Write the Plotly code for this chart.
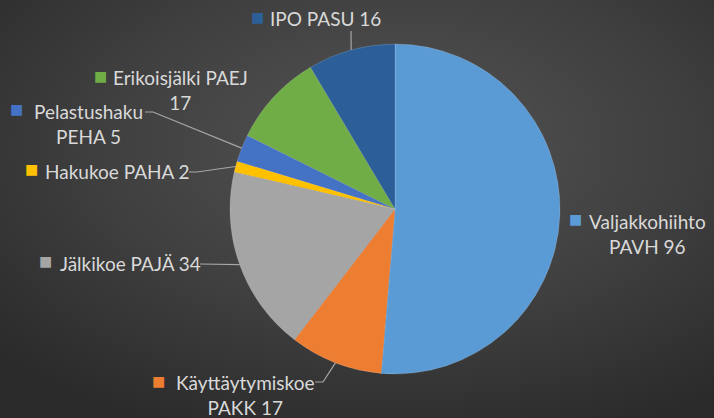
import math, base64
import plotly.graph_objects as go

# ---- data ----
names = ["Valjakkohiihto PAVH", "Käyttäytymiskoe PAKK", "Jälkikoe PAJÄ", "Hakukoe PAHA",
         "Pelastushaku PEHA", "Erikoisjälki PAEJ", "IPO PASU"]
values = [96, 17, 34, 2, 5, 17, 16]
label_lines = [["Valjakkohiihto", "PAVH 96"], ["Käyttäytymiskoe", "PAKK 17"],
               ["Jälkikoe PAJÄ 34"], ["Hakukoe PAHA 2"], ["Pelastushaku", "PEHA 5"],
               ["Erikoisjälki PAEJ", "17"], ["IPO PASU 16"]]
colors = ["#5b9bd5", "#ed7d31", "#a5a5a5", "#ffc000", "#4472c4", "#70ad47", "#2c5f98"]

W, H = 714, 418
CX, CY, R = 395, 209, 165

# label layout (pixel positions of text block centre of first line) and leader elbows
label_pos = [(647, 221), (245, 382), (130, 263), (117, 171), (88, 111), (180, 77), (325, 18)]
square_pos = [(575, 219), (158, 381), (45, 261), (31, 169), (16, 109), (100, 76), (257, 17)]
leaders = [None, [(315, 382), (323, 382)], [(200, 264)], [(189, 172), (197, 172)],
           [(145, 112), (153, 112)], None, [(351, 31)]]

def px(x):
    return x / W

def py(y):
    return 1 - y / H

# background radial gradient as svg image
svg = f'''<svg xmlns="http://www.w3.org/2000/svg" width="{W}" height="{H}">
<defs><radialGradient id="g" cx="0.55" cy="0.35" r="0.75">
<stop offset="0" stop-color="#545454"/><stop offset="0.55" stop-color="#3f3f3f"/>
<stop offset="1" stop-color="#2a2a2a"/></radialGradient></defs>
<rect width="{W}" height="{H}" fill="url(#g)"/></svg>'''
bg = "data:image/svg+xml;base64," + base64.b64encode(svg.encode()).decode()

fig = go.Figure(go.Pie(
    labels=names, values=values, sort=False, direction="clockwise", rotation=0,
    marker=dict(colors=colors, line=dict(color="rgba(255,255,255,0.25)", width=0.6)),
    textinfo="none", hoverinfo="label+value", showlegend=False,
    domain=dict(x=[px(CX - R), px(CX + R)], y=[py(CY + R), py(CY - R)]),
))

font = dict(family="Lato, Calibri, sans-serif", size=19, color="#d9d9d9")
annotations, shapes = [], []
total = sum(values)
cum = 0
for i, v in enumerate(values):
    mid = (cum + v / 2) / total * 2 * math.pi
    cum += v
    ex, ey = CX + R * math.sin(mid), CY - R * math.cos(mid)
    lx, ly = label_pos[i]
    annotations.append(dict(x=px(lx), y=py(ly), xref="paper", yref="paper",
                             text="<br>".join(label_lines[i]), showarrow=False,
                             xanchor="center", yanchor="top", yshift=13, align="center",
                             font=font))
    sx, sy = square_pos[i]
    annotations.append(dict(x=px(sx), y=py(sy), xref="paper", yref="paper", text="■",
                            showarrow=False, xanchor="center", yanchor="middle",
                            font=dict(family="DejaVu Sans", size=14, color=colors[i])))
    if leaders[i]:
        pts = leaders[i] + [(ex, ey)]
        path = "M " + " L ".join(f"{px(a)},{py(b)}" for a, b in pts)
        shapes.append(dict(type="path", path=path, xref="paper", yref="paper",
                           line=dict(color="#a6a6a6", width=1.2)))

fig.update_layout(
    width=W, height=H, margin=dict(l=0, r=0, t=0, b=0),
    paper_bgcolor="#3c3c3c", plot_bgcolor="#3c3c3c",
    annotations=annotations, shapes=shapes,
    images=[dict(source=bg, xref="paper", yref="paper", x=0, y=1, sizex=1, sizey=1,
                 xanchor="left", yanchor="top", sizing="stretch", layer="below")],
)
fig.write_html("out.html", config={"displayModeBar": False},
               post_script="document.body.style.margin='0';document.body.style.overflow='hidden';")
